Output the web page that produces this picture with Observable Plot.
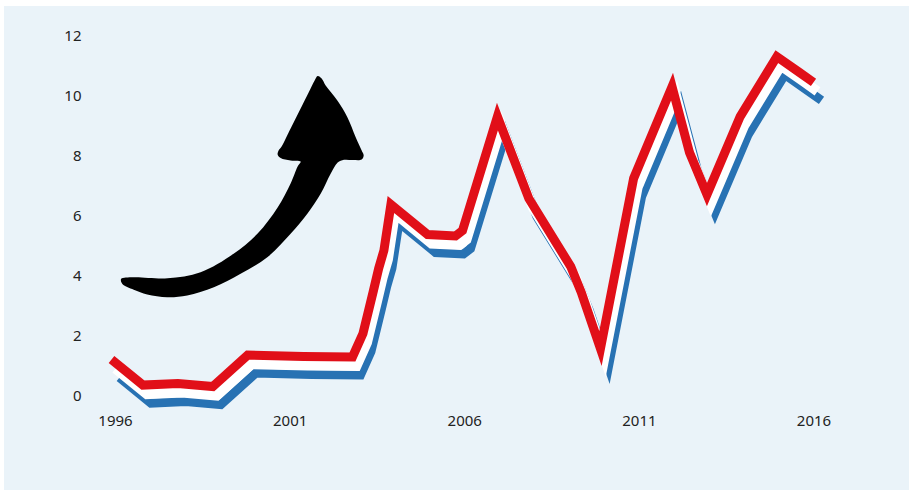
<!DOCTYPE html>
<html><head><meta charset="utf-8">
<script src="https://cdn.jsdelivr.net/npm/d3@7"></script>
<script src="https://cdn.jsdelivr.net/npm/@observablehq/plot@0.6"></script>
<style>
html,body{margin:0;padding:0;background:#fff;}
#panel{position:absolute;left:4px;top:6px;width:905px;height:484px;background:#eaf3f9;}
#panel svg{display:block;}
</style></head><body><div id="panel"></div>
<script>
// Series (decimal years, values)
const years  = [1996.0, 1996.9, 1997.9, 1998.9, 1999.9, 2001.5, 2002.9, 2003.2, 2003.5, 2003.65, 2003.8, 2004.0, 2005.05, 2005.85, 2006.05, 2007.05, 2007.95, 2009.15, 2009.45, 2010.0, 2010.95, 2012.05, 2012.55, 2013.05, 2014.0, 2015.05, 2015.7, 2016.1];
const values = [0.93, 0.08, 0.13, 0.03, 1.08, 1.03, 1.02, 1.8, 3.23, 3.97, 4.57, 6.1, 5.1, 5.05, 5.23, 9.03, 6.3, 4.03, 3.17, 1.3, 6.97, 10.03, 7.83, 6.43, 9.03, 11.03, 10.5, 10.17];

// Decorative arrow outline, in chart units (year, value)
const arrowX = [1996.163, 1996.516, 1997.490, 1998.436, 1999.381, 2000.069, 2000.642, 2001.014, 2001.215, 2001.301, 2001.014, 2000.728, 2000.642, 2000.670, 2000.756, 2001.014, 2001.272, 2001.530, 2001.702, 2001.788, 2001.903, 2002.017, 2002.352, 2002.639, 2002.877, 2003.049, 2003.106, 2003.049, 2002.791, 2002.542, 2002.361, 2002.160, 2001.874, 2001.493, 2001.014, 2000.347, 1999.582, 1998.817, 1998.054, 1997.481, 1996.908, 1996.524, 1996.192];
const arrowY = [3.923, 3.977, 3.943, 4.143, 4.757, 5.433, 6.300, 7.100, 7.667, 7.833, 7.867, 7.950, 8.067, 8.200, 8.333, 8.933, 9.533, 10.133, 10.533, 10.683, 10.600, 10.367, 9.867, 9.310, 8.643, 8.200, 8.033, 7.900, 7.883, 7.890, 7.800, 7.423, 6.757, 6.090, 5.423, 4.643, 4.090, 3.643, 3.367, 3.310, 3.400, 3.557, 3.757];

const xTicks = [1996, 2001, 2006, 2011, 2016];
const yTicks = [0, 2, 4, 6, 8, 10, 12];

const series = years.map((year, i) => ({year, value: values[i]}));
const arrow = arrowX.map((x, i) => ({x, y: arrowY[i]}));

const lineOpts = {x: "year", y: "value", curve: "linear", strokeLinejoin: "miter", strokeMiterlimit: 4, strokeLinecap: "butt"};

const plot = Plot.plot({
  width: 905, height: 484,
  marginLeft: 111, marginRight: 95.5, marginTop: 30, marginBottom: 94,
  style: {background: "transparent", fontFamily: "'Noto Sans', sans-serif", fontSize: "15px", color: "#222"},
  x: {domain: [1996, 2016]},
  y: {domain: [0, 12]},
  marks: [
    Plot.axisX({ticks: xTicks, tickFormat: d3.format("d"), tickSize: 0, tickPadding: 19, label: null, fontSize: 15}),
    Plot.axisY({ticks: yTicks, tickSize: 0, tickPadding: 34, label: null, fontSize: 15}),
    Plot.line(arrow, {x: "x", y: "y", curve: "catmull-rom-closed", fill: "black", stroke: "none"}),
    Plot.line(series, {...lineOpts, stroke: "#2872b3", strokeWidth: 9, dx: 4, dy: 9}),
    Plot.line(series, {...lineOpts, stroke: "#ffffff", strokeWidth: 10}),
    Plot.line(series, {...lineOpts, stroke: "#e10f18", strokeWidth: 9, dx: -4, dy: -9})
  ]
});
document.getElementById("panel").appendChild(plot);
</script>
</body></html>
